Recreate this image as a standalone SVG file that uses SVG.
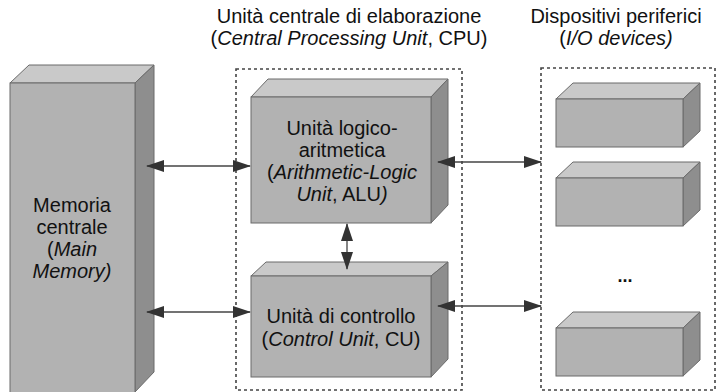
<svg xmlns="http://www.w3.org/2000/svg" width="725" height="392" viewBox="0 0 725 392">
<style>
.front{fill:#b2b2b2;stroke:#6b6b6b;stroke-width:1}
.top{fill:#c9c9c9;stroke:#6b6b6b;stroke-width:1}
.side{fill:#8e8e8e;stroke:#6b6b6b;stroke-width:1}
.grp{fill:none;stroke:#444;stroke-width:1.6;stroke-dasharray:3,3}
.t{font-family:"Liberation Sans",Arial,sans-serif;font-size:20px;fill:#111;text-anchor:middle}
.conn{stroke:#444;stroke-width:1.3;fill:none;marker-start:url(#ah);marker-end:url(#ah)}
</style>
<defs>
<marker id="ah" viewBox="0 0 18 12" refX="17" refY="6" markerWidth="18" markerHeight="12" markerUnits="userSpaceOnUse" orient="auto-start-reverse">
<path d="M0,0 L18,6 L0,12 Z" fill="#333"/>
</marker>
</defs>
<rect width="725" height="392" fill="#fff"/>

<g id="cpu-group">
<rect class="grp" x="236" y="69" width="226" height="321"/>
<text class="t" x="349" y="23">Unità centrale di elaborazione</text>
<text class="t" x="349" y="45">(<tspan font-style="italic">Central Processing Unit</tspan>, CPU)</text>
</g>

<g id="io-group">
<rect class="grp" x="541" y="68" width="174" height="322"/>
<text class="t" x="616" y="23">Dispositivi periferici</text>
<text class="t" x="616" y="45">(<tspan font-style="italic">I/O devices)</tspan></text>
</g>

<g id="memory">
<polygon class="top" points="10,83 29,65 154,65 135,83"/>
<polygon class="side" points="135,83 154,65 154,372 135,392"/>
<rect class="front" x="10" y="83" width="125" height="312"/>
<text class="t" x="72" y="212">Memoria</text>
<text class="t" x="72" y="234">centrale</text>
<text class="t" x="72" y="256">(<tspan font-style="italic">Main</tspan></text>
<text class="t" x="72" y="278"><tspan font-style="italic">Memory)</tspan></text>
</g>

<g id="alu">
<polygon class="top" points="251,97 268,79 448,79 431,97"/>
<polygon class="side" points="431,97 448,79 448,205 431,223"/>
<rect class="front" x="251" y="97" width="180" height="126"/>
<text class="t" x="342" y="135">Unità logico-</text>
<text class="t" x="342" y="157">aritmetica</text>
<text class="t" x="342" y="179">(<tspan font-style="italic">Arithmetic-Logic</tspan></text>
<text class="t" x="342" y="201"><tspan font-style="italic">Unit</tspan>, ALU<tspan font-style="italic">)</tspan></text>
</g>

<g id="cu">
<polygon class="top" points="251,276 266,262 448,262 431,276"/>
<polygon class="side" points="431,276 448,262 448,359 431,377"/>
<rect class="front" x="251" y="276" width="180" height="101"/>
<text class="t" x="341" y="323">Unità di controllo</text>
<text class="t" x="341" y="346">(<tspan font-style="italic">Control Unit</tspan>, CU)</text>
</g>

<g id="dev1">
<polygon class="top" points="556,99 573,83 700,83 683,99"/>
<polygon class="side" points="683,99 700,83 700,131 683,147"/>
<rect class="front" x="556" y="99" width="127" height="48"/>
</g>
<g id="dev2">
<polygon class="top" points="556,178 573,162 700,162 683,178"/>
<polygon class="side" points="683,178 700,162 700,210 683,226"/>
<rect class="front" x="556" y="178" width="127" height="48"/>
</g>
<g id="dots">
<text class="t" x="625" y="282" style="font-size:18px;font-weight:bold">...</text>
</g>
<g id="dev3">
<polygon class="top" points="556,328 573,312 700,312 683,328"/>
<polygon class="side" points="683,328 700,312 700,360 683,376"/>
<rect class="front" x="556" y="328" width="127" height="48"/>
</g>

<g id="connectors">
<line class="conn" x1="147" y1="166" x2="250" y2="166"/>
<line class="conn" x1="147" y1="312" x2="250" y2="312"/>
<line class="conn" x1="347" y1="224" x2="347" y2="269"/>
<line class="conn" x1="438" y1="162" x2="541" y2="162"/>
<line class="conn" x1="438" y1="306" x2="541" y2="306"/>
</g>
</svg>
